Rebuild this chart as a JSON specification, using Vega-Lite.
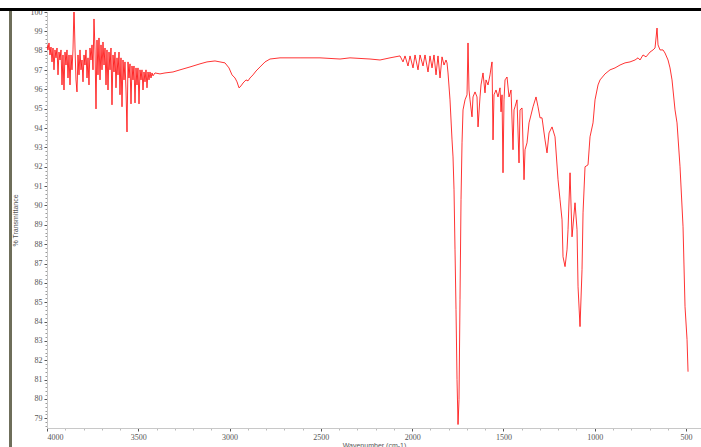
{
  "$schema": "https://vega.github.io/schema/vega-lite/v6.json",
  "width": 654,
  "height": 416,
  "autosize": "none",
  "padding": {"left": 47, "top": 12, "right": 0, "bottom": 19},
  "background": "white",
  "config": {"view": {"stroke": null}},
  "data": {
    "values": [
      {"w": 4000, "t": 98.30}, {"w": 3994.5, "t": 98.04}, {"w": 3989, "t": 98.40}, {"w": 3983.6, "t": 97.78},
      {"w": 3978.1, "t": 98.19}, {"w": 3972.6, "t": 97.42}, {"w": 3967.1, "t": 98.14}, {"w": 3961.7, "t": 97.01},
      {"w": 3956.2, "t": 98.04}, {"w": 3950.7, "t": 97.63}, {"w": 3945.2, "t": 98.14}, {"w": 3939.7, "t": 96.75},
      {"w": 3934.3, "t": 97.93}, {"w": 3928.8, "t": 97.52}, {"w": 3923.3, "t": 98.04}, {"w": 3917.8, "t": 96.23},
      {"w": 3912.4, "t": 97.78}, {"w": 3906.9, "t": 95.97}, {"w": 3901.4, "t": 97.93}, {"w": 3895.9, "t": 97.26},
      {"w": 3890.5, "t": 98.04}, {"w": 3885, "t": 96.59}, {"w": 3879.5, "t": 97.78}, {"w": 3874, "t": 96.23},
      {"w": 3868.5, "t": 97.78}, {"w": 3863.1, "t": 97.01}, {"w": 3857.6, "t": 98.04}, {"w": 3852.1, "t": 100.3},
      {"w": 3846.6, "t": 98.14}, {"w": 3841.2, "t": 96.49}, {"w": 3835.7, "t": 95.87}, {"w": 3830.2, "t": 97.78},
      {"w": 3824.7, "t": 96.75}, {"w": 3819.2, "t": 98.04}, {"w": 3813.8, "t": 97.01}, {"w": 3808.3, "t": 97.52},
      {"w": 3802.8, "t": 96.39}, {"w": 3797.3, "t": 97.78}, {"w": 3791.9, "t": 97.26}, {"w": 3786.4, "t": 98.04},
      {"w": 3780.9, "t": 96.59}, {"w": 3775.4, "t": 97.63}, {"w": 3770, "t": 96.23}, {"w": 3764.5, "t": 98.14},
      {"w": 3759, "t": 97.52}, {"w": 3753.5, "t": 98.30}, {"w": 3748, "t": 97.01}, {"w": 3742.6, "t": 99.64},
      {"w": 3737.1, "t": 98.04}, {"w": 3731.6, "t": 94.99}, {"w": 3726.1, "t": 98.55}, {"w": 3720.7, "t": 96.75},
      {"w": 3715.2, "t": 98.66}, {"w": 3709.7, "t": 96.49}, {"w": 3704.2, "t": 98.30}, {"w": 3698.7, "t": 97.01},
      {"w": 3693.3, "t": 98.45}, {"w": 3687.8, "t": 97.26}, {"w": 3682.3, "t": 98.14}, {"w": 3676.8, "t": 96.23},
      {"w": 3671.4, "t": 98.04}, {"w": 3665.9, "t": 95.97}, {"w": 3660.4, "t": 97.93}, {"w": 3654.9, "t": 97.01},
      {"w": 3649.5, "t": 98.14}, {"w": 3644, "t": 95.20}, {"w": 3638.5, "t": 97.78}, {"w": 3633, "t": 96.90},
      {"w": 3627.5, "t": 97.93}, {"w": 3622.1, "t": 96.08}, {"w": 3616.6, "t": 97.63}, {"w": 3611.1, "t": 96.75},
      {"w": 3605.6, "t": 97.93}, {"w": 3600.2, "t": 95.72}, {"w": 3594.7, "t": 97.63}, {"w": 3589.2, "t": 95.10},
      {"w": 3583.7, "t": 97.52}, {"w": 3578.2, "t": 96.49}, {"w": 3572.8, "t": 97.42}, {"w": 3567.3, "t": 95.97},
      {"w": 3561.8, "t": 93.80}, {"w": 3556.3, "t": 97.42}, {"w": 3550.9, "t": 96.59}, {"w": 3545.4, "t": 97.32},
      {"w": 3539.9, "t": 95.25}, {"w": 3534.4, "t": 97.21}, {"w": 3529, "t": 96.49}, {"w": 3523.5, "t": 97.21},
      {"w": 3518, "t": 95.30}, {"w": 3512.5, "t": 97.11}, {"w": 3507, "t": 96.23}, {"w": 3501.6, "t": 97.11},
      {"w": 3496.1, "t": 95.25}, {"w": 3490.6, "t": 97.01}, {"w": 3485.1, "t": 96.49}, {"w": 3479.7, "t": 97.01},
      {"w": 3474.2, "t": 95.97}, {"w": 3468.7, "t": 96.90}, {"w": 3463.2, "t": 96.39}, {"w": 3457.7, "t": 97.01},
      {"w": 3452.3, "t": 96.08}, {"w": 3446.8, "t": 96.90}, {"w": 3441.3, "t": 96.49}, {"w": 3435.8, "t": 96.90},
      {"w": 3430.4, "t": 96.59}, {"w": 3424.9, "t": 96.85}, {"w": 3419.4, "t": 96.70}, {"w": 3408.5, "t": 96.85},
      {"w": 3381.1, "t": 96.80}, {"w": 3353.7, "t": 96.85}, {"w": 3309.9, "t": 96.90}, {"w": 3271.5, "t": 97.01},
      {"w": 3216.7, "t": 97.16}, {"w": 3162, "t": 97.32}, {"w": 3123.7, "t": 97.42}, {"w": 3079.9, "t": 97.47},
      {"w": 3052.5, "t": 97.42}, {"w": 3025.1, "t": 97.37}, {"w": 3003.2, "t": 97.11}, {"w": 2986.7, "t": 96.75},
      {"w": 2970.3, "t": 96.59}, {"w": 2959.3, "t": 96.39}, {"w": 2948.4, "t": 96.08}, {"w": 2937.4, "t": 96.18},
      {"w": 2926.4, "t": 96.33}, {"w": 2910, "t": 96.49}, {"w": 2899.1, "t": 96.44}, {"w": 2888.1, "t": 96.59},
      {"w": 2871.7, "t": 96.75}, {"w": 2855.2, "t": 96.95}, {"w": 2833.3, "t": 97.16}, {"w": 2805.9, "t": 97.42},
      {"w": 2778.6, "t": 97.57}, {"w": 2723.8, "t": 97.63}, {"w": 2614.2, "t": 97.63}, {"w": 2504.7, "t": 97.63},
      {"w": 2395.1, "t": 97.57}, {"w": 2340.4, "t": 97.63}, {"w": 2230.8, "t": 97.57}, {"w": 2176, "t": 97.52},
      {"w": 2121.3, "t": 97.63}, {"w": 2093.9, "t": 97.68}, {"w": 2066.5, "t": 97.73}, {"w": 2050.1, "t": 97.42},
      {"w": 2039.1, "t": 97.73}, {"w": 2022.7, "t": 97.21}, {"w": 2011.7, "t": 97.73}, {"w": 1995.3, "t": 97.11},
      {"w": 1984.3, "t": 97.78}, {"w": 1967.9, "t": 97.01}, {"w": 1956.9, "t": 97.78}, {"w": 1940.5, "t": 97.21},
      {"w": 1929.6, "t": 97.78}, {"w": 1913.1, "t": 96.90}, {"w": 1902.2, "t": 97.73}, {"w": 1891.2, "t": 97.11},
      {"w": 1880.3, "t": 97.78}, {"w": 1869.3, "t": 96.75}, {"w": 1858.4, "t": 97.73}, {"w": 1847.4, "t": 96.59},
      {"w": 1836.5, "t": 97.68}, {"w": 1825.5, "t": 97.26}, {"w": 1814.6, "t": 97.52}, {"w": 1809.1, "t": 97.37},
      {"w": 1803.6, "t": 96.85}, {"w": 1792.7, "t": 95.46}, {"w": 1781.7, "t": 93.39}, {"w": 1776.2, "t": 92.51},
      {"w": 1770.7, "t": 90.81}, {"w": 1765.3, "t": 87.71}, {"w": 1759.8, "t": 84.62}, {"w": 1754.3, "t": 81.00},
      {"w": 1748.8, "t": 78.68}, {"w": 1743.4, "t": 79.97}, {"w": 1737.9, "t": 85.13}, {"w": 1732.4, "t": 90.30},
      {"w": 1726.9, "t": 93.24}, {"w": 1721.4, "t": 94.94}, {"w": 1710.5, "t": 95.46}, {"w": 1699.5, "t": 95.72},
      {"w": 1694.1, "t": 98.40}, {"w": 1688.6, "t": 95.97}, {"w": 1683.1, "t": 95.46}, {"w": 1672.2, "t": 94.58},
      {"w": 1666.7, "t": 95.61}, {"w": 1655.7, "t": 95.87}, {"w": 1644.8, "t": 95.61}, {"w": 1639.3, "t": 94.06},
      {"w": 1628.3, "t": 95.61}, {"w": 1622.9, "t": 96.23}, {"w": 1611.9, "t": 96.85}, {"w": 1601, "t": 95.82},
      {"w": 1595.5, "t": 96.49}, {"w": 1584.5, "t": 96.23}, {"w": 1573.6, "t": 96.75}, {"w": 1568.1, "t": 97.11},
      {"w": 1562.6, "t": 97.42}, {"w": 1557.1, "t": 93.39}, {"w": 1551.7, "t": 95.72}, {"w": 1540.7, "t": 95.97},
      {"w": 1529.8, "t": 95.61}, {"w": 1518.8, "t": 96.08}, {"w": 1513.3, "t": 94.84}, {"w": 1507.8, "t": 95.72},
      {"w": 1502.4, "t": 91.69}, {"w": 1496.9, "t": 95.46}, {"w": 1491.4, "t": 96.49}, {"w": 1480.4, "t": 96.64},
      {"w": 1469.5, "t": 95.61}, {"w": 1458.5, "t": 95.97}, {"w": 1447.6, "t": 92.88}, {"w": 1442.1, "t": 94.94},
      {"w": 1436.6, "t": 95.10}, {"w": 1425.7, "t": 95.46}, {"w": 1414.7, "t": 92.20}, {"w": 1409.2, "t": 94.94},
      {"w": 1398.3, "t": 95.04}, {"w": 1387.3, "t": 91.33}, {"w": 1381.8, "t": 92.88}, {"w": 1370.9, "t": 93.24},
      {"w": 1359.9, "t": 94.27}, {"w": 1349, "t": 94.68}, {"w": 1338, "t": 95.10}, {"w": 1321.6, "t": 95.61},
      {"w": 1310.6, "t": 95.10}, {"w": 1299.7, "t": 94.53}, {"w": 1288.7, "t": 94.53}, {"w": 1272.3, "t": 93.39},
      {"w": 1261.3, "t": 92.72}, {"w": 1250.4, "t": 93.75}, {"w": 1233.9, "t": 94.06}, {"w": 1217.5, "t": 93.55},
      {"w": 1201, "t": 91.33}, {"w": 1190.1, "t": 90.30}, {"w": 1179.1, "t": 89.26}, {"w": 1173.7, "t": 87.35},
      {"w": 1162.7, "t": 86.84}, {"w": 1151.8, "t": 87.71}, {"w": 1146.3, "t": 88.75}, {"w": 1135.3, "t": 91.69},
      {"w": 1124.4, "t": 88.38}, {"w": 1108, "t": 90.14}, {"w": 1097, "t": 88.75}, {"w": 1091.5, "t": 85.80},
      {"w": 1080.6, "t": 83.74}, {"w": 1069.6, "t": 86.68}, {"w": 1064.1, "t": 89.62}, {"w": 1053.2, "t": 92.00},
      {"w": 1036.8, "t": 92.10}, {"w": 1025.8, "t": 93.55}, {"w": 1009.4, "t": 94.27}, {"w": 998.4, "t": 95.46},
      {"w": 982, "t": 96.23}, {"w": 971, "t": 96.49}, {"w": 943.7, "t": 96.80}, {"w": 916.3, "t": 97.01},
      {"w": 888.9, "t": 97.11}, {"w": 861.5, "t": 97.26}, {"w": 834.1, "t": 97.37}, {"w": 806.7, "t": 97.42},
      {"w": 779.4, "t": 97.52}, {"w": 762.9, "t": 97.63}, {"w": 752, "t": 97.52}, {"w": 735.6, "t": 97.78},
      {"w": 719.1, "t": 97.68}, {"w": 697.2, "t": 97.93}, {"w": 680.8, "t": 98.04}, {"w": 669.8, "t": 98.14},
      {"w": 658.9, "t": 99.17}, {"w": 653.4, "t": 98.30}, {"w": 642.4, "t": 98.04}, {"w": 626, "t": 98.04},
      {"w": 615.1, "t": 97.88}, {"w": 598.6, "t": 97.52}, {"w": 587.7, "t": 97.11}, {"w": 576.7, "t": 96.49},
      {"w": 560.3, "t": 94.94}, {"w": 549.3, "t": 94.27}, {"w": 532.9, "t": 92.00}, {"w": 516.4, "t": 88.90},
      {"w": 505.5, "t": 84.77}, {"w": 494.5, "t": 83.07}, {"w": 489, "t": 81.41}
    ]
  },
  "layer": [
    {
      "mark": {"type": "line", "color": "#ff0000", "strokeWidth": 0.8, "clip": true},
      "encoding": {
        "x": {
          "field": "w",
          "type": "quantitative",
          "title": "Wavenumber (cm-1)",
          "scale": {"domain": [418, 4000], "reverse": true, "nice": false, "zero": false},
          "axis": {
            "grid": false,
            "tickCount": 36,
            "labelExpr": "datum.value % 500 == 0 ? format(datum.value, 'd') : ''",
            "labelOverlap": false,
            "labelFont": "Liberation Serif",
            "labelFontSize": 8,
            "labelColor": "#555555",
            "labelPadding": 2,
            "domainColor": "#c8c8c8",
            "tickColor": {"condition": {"test": "datum.value % 500 == 0", "value": "#555555"}, "value": "#bbbbbb"},
            "tickSize": {"condition": {"test": "datum.value % 500 == 0", "value": 3}, "value": 2},
            "titleFont": "Liberation Sans",
            "titleFontSize": 7,
            "titleFontWeight": "normal",
            "titleColor": "#555555",
            "titlePadding": 0
          }
        },
        "y": {
          "field": "t",
          "type": "quantitative",
          "title": "% Transmittance",
          "scale": {"domain": [78.5, 100], "nice": false, "zero": false},
          "axis": {
            "grid": false,
            "tickCount": 110,
            "labelExpr": "abs(datum.value - round(datum.value)) < 0.01 ? format(datum.value, 'd') : ''",
            "labelOverlap": false,
            "labelFont": "Liberation Serif",
            "labelFontSize": 8,
            "labelColor": "#555555",
            "labelPadding": 2,
            "domainColor": "#c8c8c8",
            "tickColor": {"condition": {"test": "abs(datum.value - round(datum.value)) < 0.01", "value": "#555555"}, "value": "#999999"},
            "tickSize": {"condition": {"test": "abs(datum.value - round(datum.value)) < 0.01", "value": 3}, "value": 2},
            "titleFont": "Liberation Sans",
            "titleFontSize": 7,
            "titleFontWeight": "normal",
            "titleColor": "#555555",
            "titlePadding": 12
          }
        }
      }
    },
    {
      "mark": {"type": "rule", "color": "#000000", "strokeWidth": 2.5, "clip": false},
      "encoding": {
        "x": {"datum": 4300, "type": "quantitative"},
        "x2": {"datum": 300},
        "y": {"datum": 100.12, "type": "quantitative"}
      }
    },
    {
      "mark": {"type": "rule", "color": "#6e6e5a", "strokeWidth": 2, "clip": false},
      "encoding": {
        "x": {"datum": 4198, "type": "quantitative"},
        "y": {"datum": 100.05, "type": "quantitative"},
        "y2": {"datum": 77.0}
      }
    }
  ]
}
